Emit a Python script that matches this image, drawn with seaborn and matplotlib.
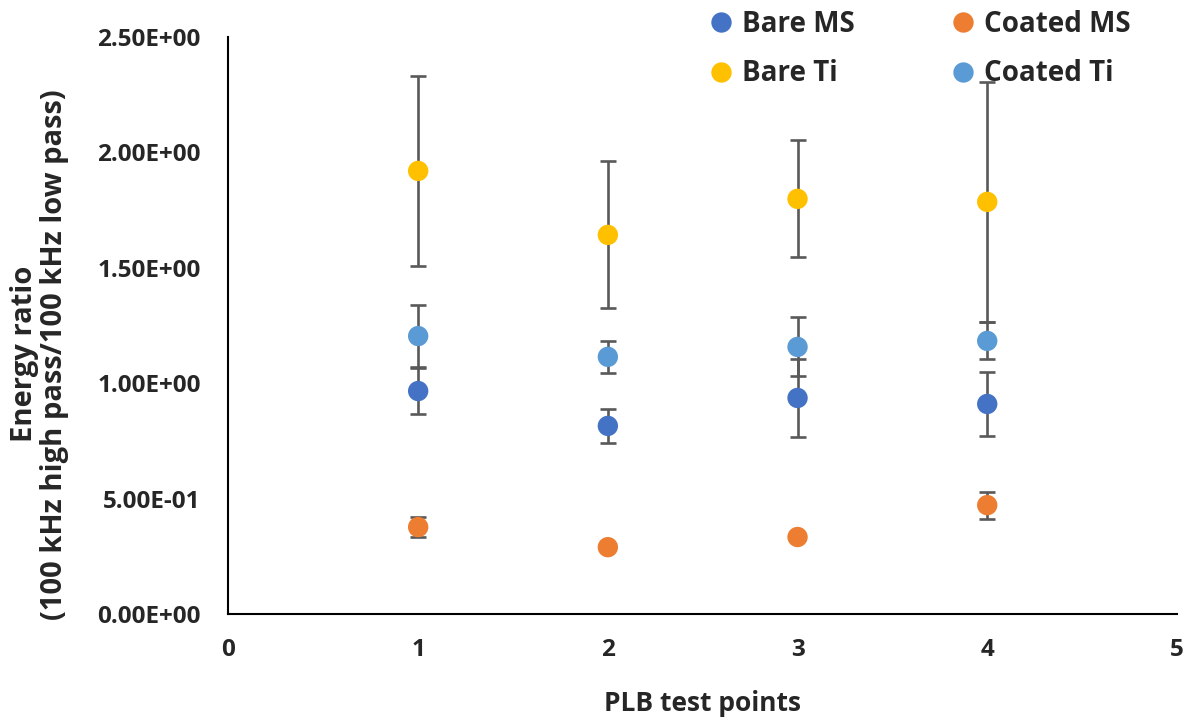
import numpy as np
import pandas as pd
import matplotlib
matplotlib.use("Agg")
import matplotlib.pyplot as plt
import seaborn as sns

# data
test_points = [1, 2, 3, 4]
series_names = ["Bare MS", "Bare Ti", "Coated MS", "Coated Ti"]
bare_ms = [0.966, 0.815, 0.936, 0.910]
bare_ms_err = [0.100, 0.073, 0.169, 0.140]
coated_ms = [0.377, 0.290, 0.334, 0.472]
coated_ms_err = [0.045, 0.0, 0.0, 0.058]
bare_ti = [1.919, 1.642, 1.798, 1.785]
bare_ti_err = [0.413, 0.318, 0.253, 0.520]
coated_ti = [1.204, 1.114, 1.157, 1.183]
coated_ti_err = [0.135, 0.070, 0.128, 0.080]
y_ticks = [0.0, 0.5, 1.0, 1.5, 2.0, 2.5]
x_ticks = [0, 1, 2, 3, 4, 5]

colors = {"Bare MS": "#4472C4", "Coated MS": "#ED7D31",
          "Bare Ti": "#FFC000", "Coated Ti": "#5B9BD5"}

values = {"Bare MS": (bare_ms, bare_ms_err), "Bare Ti": (bare_ti, bare_ti_err),
          "Coated MS": (coated_ms, coated_ms_err), "Coated Ti": (coated_ti, coated_ti_err)}

rows = []
for name in series_names:
    v, e = values[name]
    for x, y, err in zip(test_points, v, e):
        rows.append(dict(point=x, ratio=y, err=err, series=name))
df = pd.DataFrame(rows)

sns.set_theme(style="white")
plt.rcParams["font.family"] = ["Open Sans", "DejaVu Sans"]
plt.rcParams["font.weight"] = "bold"

fig, ax = plt.subplots(figsize=(11.9, 7.2), dpi=100)
fig.subplots_adjust(left=0.192, right=0.989, bottom=0.147, top=0.949)

# error bars behind the markers
for name in series_names:
    sub = df[df.series == name]
    sub = sub[sub.err > 0]
    ax.errorbar(sub.point, sub.ratio, yerr=sub.err, fmt="none",
                ecolor="#595959", elinewidth=1.9, capsize=6, capthick=1.9, zorder=1)

sns.scatterplot(data=df, x="point", y="ratio", hue="series", hue_order=series_names,
                palette=colors, s=215, edgecolor="none", ax=ax, zorder=3)

ax.set_xlim(0, 5)
ax.set_ylim(0, 2.5)
ax.set_xticks(x_ticks)
ax.set_yticks(y_ticks)
ax.set_yticklabels(["{:.2E}".format(t) for t in y_ticks])
ax.tick_params(axis="both", length=0, labelsize=17.5)
ax.tick_params(axis="y", pad=20)
ax.tick_params(axis="x", pad=17)
for lab in ax.get_xticklabels() + ax.get_yticklabels():
    lab.set_fontweight("bold")

ax.set_xlabel("PLB test points", fontsize=19, fontweight="bold", labelpad=20)
ax.set_ylabel("Energy ratio\n(100 kHz high pass/100 kHz low pass)",
              fontsize=21, fontweight="bold", linespacing=1.05)
ax.yaxis.set_label_coords(-0.168, 0.45)

sns.despine(ax=ax)
for sp in ["left", "bottom"]:
    ax.spines[sp].set_color("black")
    ax.spines[sp].set_linewidth(1.5)

handles, labels = ax.get_legend_handles_labels()
ax.legend(handles, labels, ncol=2, loc="center", bbox_to_anchor=(0.772, 0.932),
          bbox_transform=fig.transFigure, frameon=False,
          prop={"weight": "bold", "size": 20}, handlelength=1.0, handletextpad=0.25,
          columnspacing=3.4, labelspacing=0.75, markerscale=1.0)

fig.savefig("out.png", dpi=100, facecolor="white")
